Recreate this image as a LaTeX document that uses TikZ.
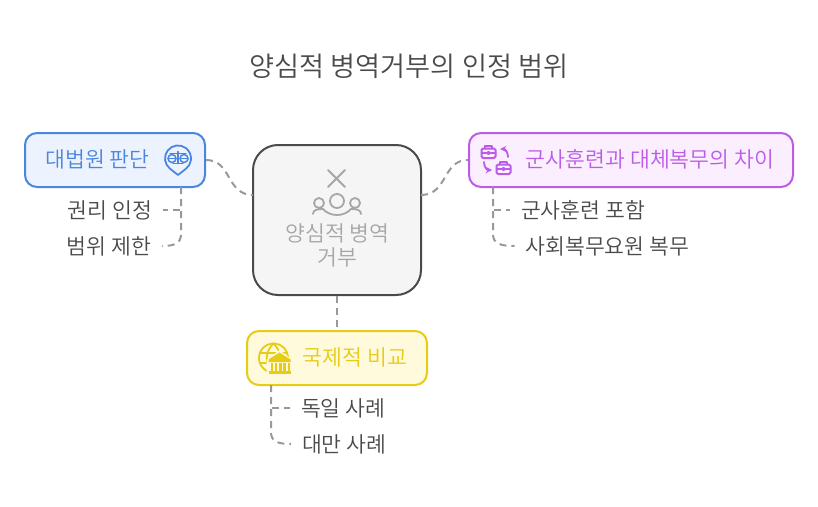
\documentclass[tikz,border=0pt]{standalone}
\usepackage{fontspec}
\setmainfont{Noto Sans CJK KR DemiLight}
\usetikzlibrary{positioning}
\definecolor{inkgray}{HTML}{4A4A4A}
\definecolor{linkgray}{HTML}{999999}
\definecolor{mutedgray}{HTML}{A6A6A6}
\definecolor{bluefg}{HTML}{4A86E0}
\definecolor{bluebg}{HTML}{EDF3FE}
\definecolor{violetfg}{HTML}{BC5CE6}
\definecolor{violetbg}{HTML}{FAEEFF}
\definecolor{yellowfg}{HTML}{E6CC14}
\definecolor{yellowbg}{HTML}{FFFADC}
\tikzset{
  topic/.style={draw, line width=2pt, rounded corners=12pt, minimum height=54pt, inner sep=0pt},
  topictext/.style={font=\fontsize{21.6}{21.6}\selectfont},
  leaf/.style={text=inkgray, inner xsep=11pt, inner ysep=0pt, outer sep=0pt, font=\fontsize{21.6}{21.6}\selectfont},
  link/.style={draw=linkgray, line width=2pt, dash pattern=on 7pt off 5pt},
  iconline/.style={line width=1.8pt, line cap=round, line join=round},
  briefcase/.pic={
    \draw[iconline, line width=2pt, rounded corners=1.5pt] (-7,-3.5) rectangle (7,6);
    \draw[iconline] (-3.5,-3.5) -- (-3.5,-6) -- (3.5,-6) -- (3.5,-3.5);
    \draw[iconline] (-7,1) -- (7,1);
    \fill (0,1) circle (2pt);
  },
  people/.pic={
    \draw[iconline] (-9,-31) -- (8,-14) (8,-31) -- (-9,-14);
    \draw[iconline] (0,0) circle (7pt) (-18,2) circle (5pt) (18,2) circle (5pt);
    \draw[iconline] (-14,8) .. controls (-7,16) and (7,16) .. (14,8);
    \draw[iconline] (-24,13) .. controls (-24,9) and (-20,8) .. (-14,8);
    \draw[iconline] (24,13) .. controls (24,9) and (20,8) .. (14,8);
  },
  scalepin/.pic={
    \draw[iconline] (0,16.5) -- (-8,10.2) arc[start angle=232, end angle=-52, radius=13pt] -- cycle;
    \draw[iconline, line width=1.5pt] (0,-7) -- (0,5) (-5,5) -- (5,5) (-8,-5) -- (8,-5);
    \draw[iconline, line width=1.5pt] (-6,0) circle (4pt) (6,0) circle (4pt);
    \draw[iconline, line width=1.5pt] (-10,0) -- (-2,0) (2,0) -- (10,0);
  },
  globebank/.pic={
    \draw[iconline] (0,0) circle (14.5pt);
    \draw[iconline] (0,-14.5) .. controls (-9,-6) and (-9,6) .. (0,14.5);
    \draw[iconline] (0,-14.5) .. controls (9,-6) and (9,6) .. (0,14.5);
    \draw[iconline] (-13,-5) -- (13,-5) (-13,5) -- (6,5);
    \fill[yellowbg] (-7,2) -- (6,-8) -- (19,2) -- (19,17) -- (-7,17) -- cycle;
    \fill (-5,1.5) -- (6,-5.5) -- (17,1.5) -- (17,4) -- (-5,4) -- cycle;
    \fill (-5,12.5) rectangle (17,15.5);
    \foreach \px in {-3,1.3,5.6,9.9,14.2} \fill (\px,5) rectangle (\px+2.4,12.5);
  },
}
\begin{document}
\begin{tikzpicture}[x=1pt, y=-1pt]
\useasboundingbox (0,0) rectangle (818,506);
\node[text=inkgray, font=\fontsize{27.2}{27.2}\selectfont] (title) at (409,66) {양심적 병역거부의 인정 범위};

% hub
\node[draw=inkgray, fill=black!4, line width=2pt, rounded corners=25pt, minimum width=168pt, minimum height=150pt] (hub) at (337,220) {};
\node[text=mutedgray, align=center, font=\fontsize{21.6}{24}\selectfont] (hubtext) at (337.5,245) {양심적 병역\\거부};
\pic[draw=mutedgray, fill=mutedgray] at (337,201) {people};
\coordinate (hubleft) at (253,195);
\coordinate (hubright) at (421,195);

% topics
\node[topic, draw=bluefg, fill=bluebg, minimum width=180pt] (court) at (115,160) {};
\node[topictext, text=bluefg] (courttext) at (97.5,159) {대법원 판단};
\pic[draw=bluefg, fill=bluefg] at (178,158.5) {scalepin};
\node[topic, draw=violetfg, fill=violetbg, minimum width=324pt] (service) at (631,160) {};
\node[topictext, text=violetfg] (servicetext) at (650,159) {군사훈련과 대체복무의 차이};
\pic[draw=violetfg, fill=violetfg] at (488.5,152) {briefcase};
\pic[draw=violetfg, fill=violetfg] at (503.5,168) {briefcase};
\draw[iconline, violetfg, -stealth] (508,157) .. controls (508,152) and (505,149) .. (500,149);
\draw[iconline, violetfg, -stealth] (484,162) .. controls (484,167) and (487,170) .. (492,170);
\node[topic, draw=yellowfg, fill=yellowbg, minimum width=180pt] (intl) at (337,358) {};
\node[topictext, text=yellowfg] (intltext) at (355,357) {국제적 비교};
\pic[draw=yellowfg, fill=yellowfg] at (273.5,358) {globebank};

% leaves
\node[leaf, anchor=east] (rights) at (163,210) {권리 인정};
\node[leaf, anchor=east] (scope) at (162,246) {범위 제한};
\node[leaf, anchor=west] (drill) at (510,210) {군사훈련 포함};
\node[leaf, anchor=west] (social) at (514.5,246) {사회복무요원 복무};
\node[leaf, anchor=west] (germany) at (290,408) {독일 사례};
\node[leaf, anchor=west] (taiwan) at (291,444) {대만 사례};

\coordinate (courtport) at (181,187);
\coordinate (serviceport) at (493,187);
\coordinate (intlport) at (271,385);

% links
\draw[link] (court.east) .. controls (232,160) and (226,195) .. (hubleft);
\draw[link] (hubright) .. controls (448,195) and (442,160) .. (service.west);
\draw[link] (hub.south) -- (intl.north);
\draw[link] (courtport) |- (rights.east);
\draw[link] (courtport) -- (181,234) .. controls (181,243) and (175,246) .. (scope.east);
\draw[link] (serviceport) |- (drill.west);
\draw[link] (serviceport) -- (493,234) .. controls (493,243) and (499,246) .. (social.west);
\draw[link] (intlport) |- (germany.west);
\draw[link] (intlport) -- (271,432) .. controls (271,441) and (277,444) .. (taiwan.west);
\end{tikzpicture}
\end{document}
